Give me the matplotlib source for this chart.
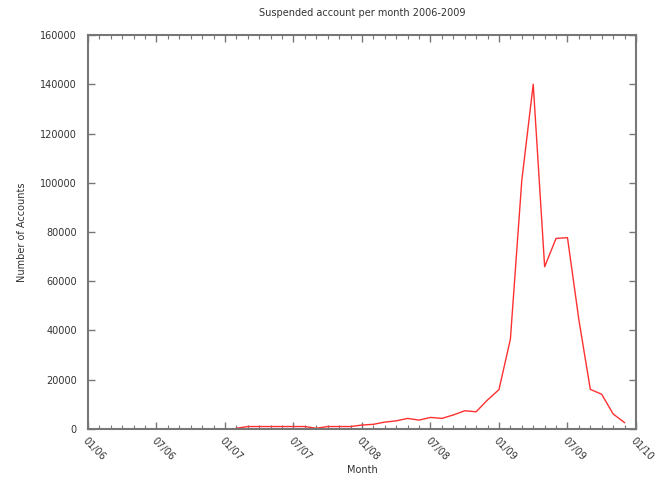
import matplotlib
matplotlib.use("Agg")
import matplotlib.pyplot as plt
import numpy as np

# months counted from 01/06 (0) to 01/10 (48)
months = list(range(13, 48))
accounts = [300, 1000, 1000, 1000, 1000, 1000, 1000, 300, 1000, 1000, 1000,
            1600, 1900, 2800, 3300, 4300, 3600, 4700, 4300, 5700, 7400, 7000,
            11800, 16000, 36500, 101000, 140000, 65900, 77400, 77700, 44300,
            16100, 14100, 6100, 2600]

tick_pos = [0, 6, 12, 18, 24, 30, 36, 42, 48]
tick_labels = ["01/06", "07/06", "01/07", "07/07", "01/08", "07/08",
               "01/09", "07/09", "01/10"]
y_ticks = [0, 20000, 40000, 60000, 80000, 100000, 120000, 140000, 160000]

text_col = "#333333"
axis_col = "#777777"

fig = plt.figure(figsize=(6.6, 4.79), dpi=100)
ax = fig.add_axes([0.1333, 0.1044, 0.8303, 0.8225])

ax.plot(months, accounts, color="#ff3030", lw=1.0)

ax.set_xlim(0, 48)
ax.set_ylim(0, 160000)
ax.set_xticks(tick_pos)
ax.set_xticks(range(0, 49), minor=True)
ax.set_yticks(y_ticks)
ax.set_yticklabels([str(v) for v in y_ticks])
ax.set_xticklabels(tick_labels, rotation=-45, ha="left", va="top",
                   rotation_mode="anchor")

for s in ax.spines.values():
    s.set_color(axis_col)
    s.set_linewidth(1.5)

ax.tick_params(which="both", direction="in", top=True, right=True,
               colors=axis_col, labelcolor=text_col, labelsize=7)
ax.tick_params(which="major", length=5, width=1, pad=8)
ax.tick_params(axis="x", which="major", pad=5)
ax.tick_params(which="minor", length=3, width=0.8)

ax.set_title("Suspended account per month 2006-2009", fontsize=7,
             color=text_col, pad=14)
# axis titles placed where the reference has them
fig.text(362 / 660, 1 - 470 / 479, "Month", fontsize=7, color=text_col,
         ha="center", va="center")
fig.text(22 / 660, 1 - 232 / 479, "Number of Accounts", fontsize=7,
         color=text_col, ha="center", va="center", rotation=90)

fig.savefig("out.png", dpi=100)
